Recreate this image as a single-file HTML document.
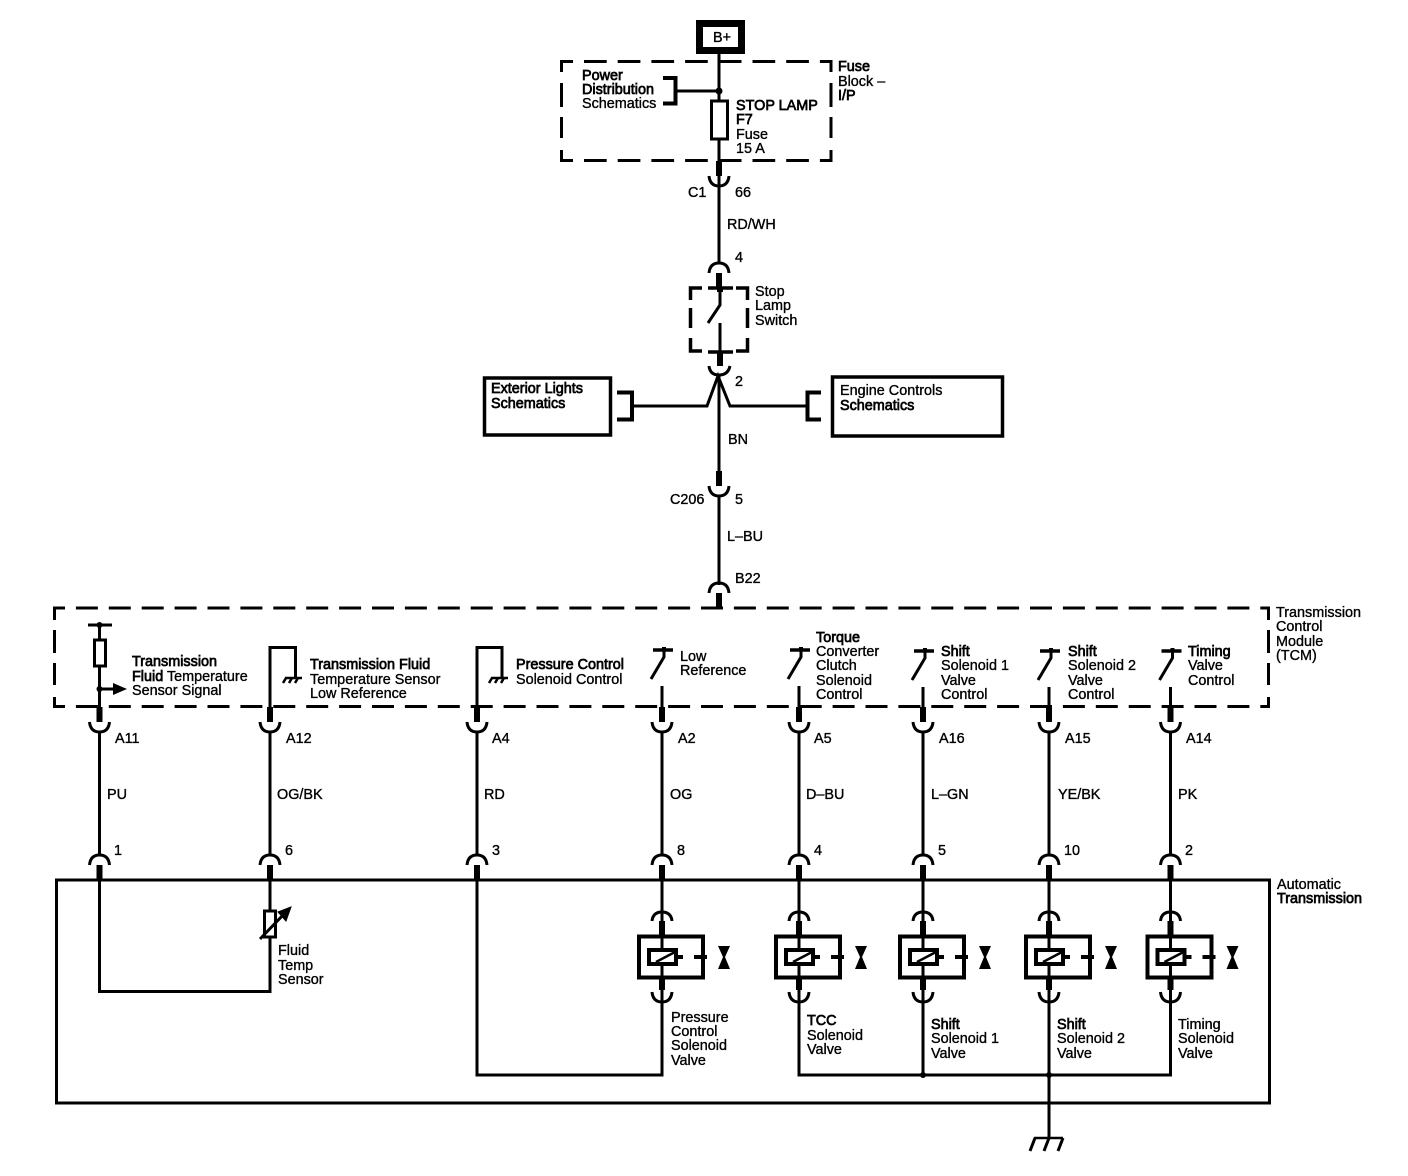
<!DOCTYPE html>
<html><head><meta charset="utf-8"><style>
html,body{margin:0;padding:0;background:#fff}
svg{display:block}
text{font-family:"Liberation Sans",sans-serif;font-size:14.4px;fill:#000;stroke:#000;stroke-width:.35}
.b{stroke-width:.7}
.l{fill:none;stroke:#000;stroke-width:3}
.t{fill:none;stroke:#000;stroke-width:4}
</style></head><body>
<svg width="1408" height="1176" viewBox="0 0 1408 1176" xmlns="http://www.w3.org/2000/svg">
<defs>
<g id="cd"><rect x="-3" y="-15" width="6" height="15" fill="#000"/><path class="l" d="M-10 0 Q-9 10 0 10 Q9 10 10 0"/></g>
<g id="cu"><rect x="-3" y="0" width="6" height="15" fill="#000"/><path class="l" d="M-10 0 Q-9 -10 0 -10 Q9 -10 10 0"/></g>
<g id="sw"><path d="M-9 0H11" stroke="#000" stroke-width="3.5"/><rect x="0" y="-3" width="4" height="4"/><path class="l" d="M2 0V7L-11 29"/><path class="l" d="M0 36V57"/></g>
<g id="gnd"><path d="M-8 0H9" stroke="#000" stroke-width="2.500"/><path d="M-7 0L-10 5M-1 0L-4 5M5 0L2 5" stroke="#000" stroke-width="2.500"/></g>
<g id="sol">
<path class="l" d="M0 -77V46"/>
<rect x="-3" y="-36" width="6" height="14" fill="#000"/>
<path class="l" d="M-10 -36 Q-9 -45 0 -45 Q9 -45 10 -36"/>
<rect x="-23" y="-20.500" width="64" height="41" fill="none" stroke="#000" stroke-width="4"/>
<rect x="-13" y="-7" width="27" height="14" fill="#fff" stroke="#000" stroke-width="4"/>
<path d="M-6 5L13 -5" stroke="#000" stroke-width="2.500"/>
<path d="M15 0H21" stroke="#000" stroke-width="4"/>
<path d="M32 0H45" stroke="#000" stroke-width="4"/>
<path d="M56 -11H68L63 0L68 12H56L61 0Z" fill="#000"/>
<rect x="-3" y="21" width="6" height="12" fill="#000"/>
<path class="l" d="M-10 35 Q-9 45 0 45 Q9 45 10 35"/>
</g>
</defs>

<!-- B+ -->
<rect x="699.500" y="23.500" width="42" height="27" fill="none" stroke="#000" stroke-width="7"/>
<text x="713" y="42">B+</text>

<!-- Fuse block -->
<path class="l" d="M560 61.500H832" stroke-dasharray="13 11 22.700 11 22.700 11 22.700 11 22.700 11 22.700 11 22.700 11 22.700 11 13 0"/>
<path class="l" d="M560 160.500H832" stroke-dasharray="13 11 22.700 11 22.700 11 22.700 11 22.700 11 22.700 11 22.700 11 22.700 11 13 0"/>
<path class="l" d="M561.500 60V72M561.500 83V107M561.500 117V138M561.500 150V162M831 60V72M831 83V107M831 117V138M831 150V162"/>
<path class="l" d="M719 54V101M719 139V262"/>
<circle cx="719" cy="91" r="3.500"/>
<path class="l" d="M677 91H719"/>
<path class="t" d="M663 78H675.500V103.500H663"/>
<rect x="711.500" y="101" width="16" height="38" fill="#fff" stroke="#000" stroke-width="3"/>
<use href="#cd" x="719" y="176"/>
<use href="#cu" x="719" y="273"/>
<text class="b" x="582" y="80">Power</text>
<text class="b" x="582" y="94">Distribution</text>
<text x="582" y="108">Schematics</text>
<text class="b" x="736" y="110">STOP LAMP</text>
<text class="b" x="736" y="124">F7</text>
<text x="736" y="139">Fuse</text>
<text x="736" y="153">15 A</text>
<text class="b" x="838" y="71">Fuse</text>
<text x="838" y="86">Block –</text>
<text class="b" x="838" y="100">I/P</text>
<text x="688" y="197">C1</text>
<text x="735" y="197">66</text>
<text x="727" y="229">RD/WH</text>
<text x="735" y="262">4</text>

<!-- Stop lamp switch -->
<path class="l" d="M702 288H690.500V300M690.500 308V328M690.500 338V351H702M736 288H747.500V300M747.500 308V328M747.500 338V351H736" style="stroke-width:3.500"/>
<path d="M708 288H733M708 352H733" stroke="#000" stroke-width="3.500"/>
<path class="l" d="M720 288V305L708 323"/>
<path class="l" d="M720 323V352"/>
<rect x="717" y="287" width="6" height="5" fill="#000"/>
<rect x="717" y="352" width="6" height="14" fill="#000"/>
<path class="l" d="M709 366 Q710 375 719 375 Q728 375 730 366"/>
<text x="755" y="296">Stop</text>
<text x="755" y="310">Lamp</text>
<text x="755" y="325">Switch</text>

<!-- Splice -->
<path class="l" d="M719 375V475"/>
<path class="l" d="M632 406H707L718 376L730 406H807"/>
<path class="t" d="M617 392.500H632V419.500H617"/>
<path class="t" d="M821 392.500H807.500V419.500H821"/>
<rect x="484.500" y="378" width="126" height="57" fill="none" stroke="#000" stroke-width="3.500"/>
<rect x="832.500" y="377" width="170" height="59" fill="none" stroke="#000" stroke-width="3.500"/>
<text class="b" x="491" y="393">Exterior Lights</text>
<text class="b" x="491" y="408">Schematics</text>
<text x="840" y="395">Engine Controls</text>
<text class="b" x="840" y="410">Schematics</text>
<text x="735" y="386">2</text>
<text x="728" y="444">BN</text>
<use href="#cd" x="719" y="486"/>
<path class="l" d="M719 496V585"/>
<use href="#cu" x="719" y="593"/>
<text x="670" y="504">C206</text>
<text x="735" y="504">5</text>
<text x="727" y="541">L–BU</text>
<text x="735" y="583">B22</text>

<!-- TCM -->
<path class="l" d="M53 608H1270" stroke-dasharray="22 10.900" stroke-dashoffset="10"/>
<path class="l" d="M53 706.500H1270" stroke-dasharray="22 10.900" stroke-dashoffset="10"/>
<path class="l" d="M54.500 607V620M54.500 630V653M54.500 663V685M54.500 697V708M1268.500 607V620M1268.500 630V653M1268.500 663V685M1268.500 697V708"/>
<text x="1276" y="617">Transmission</text>
<text x="1276" y="631">Control</text>
<text x="1276" y="646">Module</text>
<text x="1276" y="660">(TCM)</text>

<!-- A11 -->
<path d="M88 625H112" stroke="#000" stroke-width="3"/>
<circle cx="99.500" cy="625" r="3"/>
<path class="l" d="M99.500 625V707"/>
<rect x="94.500" y="640" width="11" height="26" fill="#fff" stroke="#000" stroke-width="3"/>
<circle cx="99.500" cy="689" r="3"/>
<path class="l" d="M99.500 689H115"/>
<path d="M113 683L127 689L113 695Z"/>
<text class="b" x="132" y="666">Transmission</text>
<text x="132" y="681"><tspan class="b">Fluid</tspan> Temperature</text>
<text x="132" y="695">Sensor Signal</text>

<!-- A12 -->
<path class="l" d="M270 707V647.500H295.500V678"/>
<use href="#gnd" x="293" y="678"/>
<text class="b" x="310" y="669">Transmission Fluid</text>
<text x="310" y="684">Temperature Sensor</text>
<text x="310" y="698">Low Reference</text>

<!-- A4 -->
<path class="l" d="M477 707V647.500H502V678"/>
<use href="#gnd" x="499" y="678"/>
<text class="b" x="516" y="669">Pressure Control</text>
<text x="516" y="684">Solenoid Control</text>

<!-- switches -->
<use href="#sw" x="662" y="650"/>
<use href="#sw" x="799" y="650"/>
<use href="#sw" x="923" y="651"/>
<use href="#sw" x="1049" y="651"/>
<use href="#sw" x="1170.500" y="651"/>
<text x="680" y="661">Low</text>
<text x="680" y="675">Reference</text>
<text class="b" x="816" y="642">Torque</text>
<text x="816" y="656">Converter</text>
<text x="816" y="670">Clutch</text>
<text x="816" y="685">Solenoid</text>
<text x="816" y="699">Control</text>
<text class="b" x="941" y="656">Shift</text>
<text x="941" y="670">Solenoid 1</text>
<text x="941" y="685">Valve</text>
<text x="941" y="699">Control</text>
<text class="b" x="1068" y="656">Shift</text>
<text x="1068" y="670">Solenoid 2</text>
<text x="1068" y="685">Valve</text>
<text x="1068" y="699">Control</text>
<text class="b" x="1188" y="656">Timing</text>
<text x="1188" y="670">Valve</text>
<text x="1188" y="685">Control</text>

<!-- Wires between TCM and transmission -->
<use href="#cd" x="99.500" y="722"/><path class="l" d="M99.500 732V855"/><use href="#cu" x="99.500" y="865"/>
<use href="#cd" x="270" y="722"/><path class="l" d="M270 732V855"/><use href="#cu" x="270" y="865"/>
<use href="#cd" x="477" y="722"/><path class="l" d="M477 732V855"/><use href="#cu" x="477" y="865"/>
<use href="#cd" x="662" y="722"/><path class="l" d="M662 732V855"/><use href="#cu" x="662" y="865"/>
<use href="#cd" x="799" y="722"/><path class="l" d="M799 732V855"/><use href="#cu" x="799" y="865"/>
<use href="#cd" x="923" y="722"/><path class="l" d="M923 732V855"/><use href="#cu" x="923" y="865"/>
<use href="#cd" x="1049" y="722"/><path class="l" d="M1049 732V855"/><use href="#cu" x="1049" y="865"/>
<use href="#cd" x="1170.500" y="722"/><path class="l" d="M1170.500 732V855"/><use href="#cu" x="1170.500" y="865"/>

<text x="115" y="743">A11</text><text x="286" y="743">A12</text><text x="492" y="743">A4</text><text x="678" y="743">A2</text>
<text x="814" y="743">A5</text><text x="939" y="743">A16</text><text x="1065" y="743">A15</text><text x="1186" y="743">A14</text>
<text x="107" y="799">PU</text><text x="277" y="799">OG/BK</text><text x="484" y="799">RD</text><text x="670" y="799">OG</text>
<text x="806" y="799">D–BU</text><text x="931" y="799">L–GN</text><text x="1058" y="799">YE/BK</text><text x="1178" y="799">PK</text>
<text x="114" y="855">1</text><text x="285" y="855">6</text><text x="492" y="855">3</text><text x="677" y="855">8</text>
<text x="814" y="855">4</text><text x="938" y="855">5</text><text x="1064" y="855">10</text><text x="1185" y="855">2</text>

<!-- Automatic Transmission -->
<rect x="56.500" y="880" width="1213" height="223" class="l"/>
<text x="1277" y="889">Automatic</text>
<text class="b" x="1277" y="903">Transmission</text>

<path class="l" d="M99.500 880V991.500H270V880"/>
<rect x="264.500" y="911" width="11" height="26" fill="#fff" stroke="#000" stroke-width="3"/>
<path d="M260 939L285 913" stroke="#000" stroke-width="3"/>
<path d="M291 907L286 921L278 912Z" stroke="#000" stroke-width="1"/>
<text x="278" y="955">Fluid</text>
<text x="278" y="970">Temp</text>
<text x="278" y="984">Sensor</text>

<path class="l" d="M477 880V1075H662V1000"/>
<path class="l" d="M799 1000V1075H1170.500V1000"/>
<path class="l" d="M923 1000V1075"/>
<use href="#sol" x="662" y="957"/>
<use href="#sol" x="799" y="957"/>
<use href="#sol" x="923" y="957"/>
<use href="#sol" x="1049" y="957"/>
<use href="#sol" x="1170.500" y="957"/>
<circle cx="923" cy="1075" r="3"/>
<circle cx="1049" cy="1075" r="3"/>
<path class="l" d="M1049 1000V1138"/>
<path d="M1034 1138H1063" stroke="#000" stroke-width="2.500"/>
<path d="M1035 1138L1030 1151M1049 1138L1044 1151M1063 1138L1058 1151" stroke="#000" stroke-width="3"/>

<text x="671" y="1022">Pressure</text>
<text x="671" y="1036">Control</text>
<text x="671" y="1050">Solenoid</text>
<text x="671" y="1065">Valve</text>
<text class="b" x="807" y="1025">TCC</text>
<text x="807" y="1040">Solenoid</text>
<text x="807" y="1054">Valve</text>
<text class="b" x="931" y="1029">Shift</text>
<text x="931" y="1043">Solenoid 1</text>
<text x="931" y="1058">Valve</text>
<text class="b" x="1057" y="1029">Shift</text>
<text x="1057" y="1043">Solenoid 2</text>
<text x="1057" y="1058">Valve</text>
<text x="1178" y="1029">Timing</text>
<text x="1178" y="1043">Solenoid</text>
<text x="1178" y="1058">Valve</text>
</svg>
</body></html>
